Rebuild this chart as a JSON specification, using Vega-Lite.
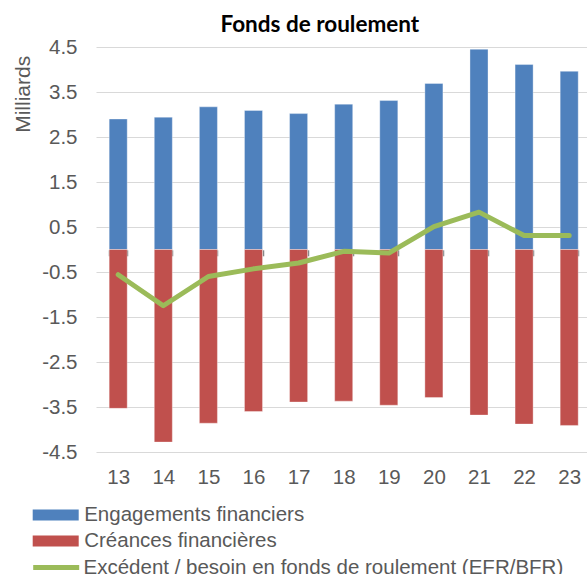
{
  "$schema": "https://vega.github.io/schema/vega-lite/v6.json",
  "width": 491,
  "height": 405,
  "autosize": {"type": "none"},
  "padding": {"left": 96, "top": 47, "right": 0, "bottom": 122},
  "background": "white",
  "title": {
    "text": "Fonds de roulement",
    "font": "Lato",
    "fontSize": 22.5,
    "fontWeight": "bold",
    "color": "#000000",
    "anchor": "middle",
    "frame": "group",
    "baseline": "alphabetic",
    "offset": 15,
    "dx": -21.7,
    "dy": 32.5
  },
  "config": {
    "view": {"stroke": null},
    "font": "Liberation Sans",
    "legend": {
      "title": null,
      "orient": "none",
      "direction": "vertical",
      "padding": 0,
      "symbolSize": 2116,
      "symbolOpacity": 1,
      "labelOffset": 5.5,
      "labelFont": "Liberation Sans",
      "labelFontSize": 20.5,
      "labelColor": "#595959",
      "labelLimit": 1000
    }
  },
  "data": {
    "values": [
      {"annee": "13", "serie": "Engagements financiers", "valeur": 2.90},
      {"annee": "14", "serie": "Engagements financiers", "valeur": 2.94},
      {"annee": "15", "serie": "Engagements financiers", "valeur": 3.17},
      {"annee": "16", "serie": "Engagements financiers", "valeur": 3.09},
      {"annee": "17", "serie": "Engagements financiers", "valeur": 3.02},
      {"annee": "18", "serie": "Engagements financiers", "valeur": 3.23},
      {"annee": "19", "serie": "Engagements financiers", "valeur": 3.31},
      {"annee": "20", "serie": "Engagements financiers", "valeur": 3.69},
      {"annee": "21", "serie": "Engagements financiers", "valeur": 4.45},
      {"annee": "22", "serie": "Engagements financiers", "valeur": 4.11},
      {"annee": "23", "serie": "Engagements financiers", "valeur": 3.96},
      {"annee": "13", "serie": "Créances financières", "valeur": -3.53},
      {"annee": "14", "serie": "Créances financières", "valeur": -4.28},
      {"annee": "15", "serie": "Créances financières", "valeur": -3.86},
      {"annee": "16", "serie": "Créances financières", "valeur": -3.60},
      {"annee": "17", "serie": "Créances financières", "valeur": -3.39},
      {"annee": "18", "serie": "Créances financières", "valeur": -3.37},
      {"annee": "19", "serie": "Créances financières", "valeur": -3.46},
      {"annee": "20", "serie": "Créances financières", "valeur": -3.29},
      {"annee": "21", "serie": "Créances financières", "valeur": -3.68},
      {"annee": "22", "serie": "Créances financières", "valeur": -3.88},
      {"annee": "23", "serie": "Créances financières", "valeur": -3.91},
      {"annee": "13", "serie": "Excédent / besoin en fonds de roulement (EFR/BFR)", "valeur": -0.56},
      {"annee": "14", "serie": "Excédent / besoin en fonds de roulement (EFR/BFR)", "valeur": -1.25},
      {"annee": "15", "serie": "Excédent / besoin en fonds de roulement (EFR/BFR)", "valeur": -0.60},
      {"annee": "16", "serie": "Excédent / besoin en fonds de roulement (EFR/BFR)", "valeur": -0.43},
      {"annee": "17", "serie": "Excédent / besoin en fonds de roulement (EFR/BFR)", "valeur": -0.30},
      {"annee": "18", "serie": "Excédent / besoin en fonds de roulement (EFR/BFR)", "valeur": -0.04},
      {"annee": "19", "serie": "Excédent / besoin en fonds de roulement (EFR/BFR)", "valeur": -0.08},
      {"annee": "20", "serie": "Excédent / besoin en fonds de roulement (EFR/BFR)", "valeur": 0.51},
      {"annee": "21", "serie": "Excédent / besoin en fonds de roulement (EFR/BFR)", "valeur": 0.83},
      {"annee": "22", "serie": "Excédent / besoin en fonds de roulement (EFR/BFR)", "valeur": 0.31},
      {"annee": "23", "serie": "Excédent / besoin en fonds de roulement (EFR/BFR)", "valeur": 0.31}
    ]
  },
  "encoding": {
    "x": {
      "field": "annee",
      "type": "ordinal",
      "sort": null,
      "scale": {"paddingInner": 0.6, "paddingOuter": 0.2435, "align": 0.6},
      "axis": {
        "title": null,
        "orient": "bottom",
        "offset": -202.2,
        "domain": false,
        "ticks": true,
        "tickBand": "extent",
        "tickColor": "#868686",
        "tickWidth": 1.5,
        "tickSize": 6,
        "labelAngle": 0,
        "labelFont": "Liberation Sans",
        "labelFontSize": 20.5,
        "labelColor": "#595959",
        "labelBaseline": "middle",
        "labelPadding": 222,
        "grid": false
      }
    },
    "y": {
      "field": "valeur",
      "type": "quantitative",
      "stack": null,
      "scale": {"domain": [-4.5, 4.5], "nice": false, "zero": false},
      "axis": {
        "title": "Milliards",
        "titleFont": "Liberation Sans",
        "titleFontSize": 21,
        "titleFontWeight": "normal",
        "titleColor": "#595959",
        "titleX": -67,
        "titleY": 46.8,
        "titleAngle": -90,
        "titleAlign": "center",
        "titleBaseline": "alphabetic",
        "values": [-4.5, -3.5, -2.5, -1.5, -0.5, 0.5, 1.5, 2.5, 3.5, 4.5],
        "format": ".1f",
        "labelExpr": "replace(datum.label, '−', '-')",
        "domain": false,
        "ticks": false,
        "labelFont": "Liberation Sans",
        "labelFontSize": 20.5,
        "labelColor": "#595959",
        "labelPadding": 19,
        "grid": true,
        "gridColor": "#d9d9d9",
        "gridWidth": 1
      }
    }
  },
  "layer": [
    {
      "transform": [{"filter": "datum.serie === 'Engagements financiers'"}],
      "mark": {"type": "bar", "stroke": "#ffffff", "strokeOpacity": 0.35, "strokeWidth": 1},
      "encoding": {
        "color": {
          "field": "serie",
          "type": "nominal",
          "scale": {"domain": ["Engagements financiers"], "range": ["#4f81bd"]},
          "legend": {
            "legendX": -63.3,
            "legendY": 445,
            "symbolType": "M-1,-0.24H1V0.24H-1Z",
            "symbolStrokeWidth": 0
          }
        }
      }
    },
    {
      "transform": [{"filter": "datum.serie === 'Créances financières'"}],
      "mark": {"type": "bar", "stroke": "#ffffff", "strokeOpacity": 0.35, "strokeWidth": 1},
      "encoding": {
        "fill": {
          "field": "serie",
          "type": "nominal",
          "scale": {"domain": ["Créances financières"], "range": ["#c0504d"]},
          "legend": {
            "legendX": -63.3,
            "legendY": 471,
            "symbolType": "M-1,-0.24H1V0.24H-1Z",
            "symbolStrokeWidth": 0
          }
        }
      }
    },
    {
      "mark": {"type": "rule", "color": "#868686", "strokeWidth": 2},
      "encoding": {"y": {"datum": 0, "type": "quantitative"}}
    },
    {
      "transform": [{"filter": "datum.serie === 'Excédent / besoin en fonds de roulement (EFR/BFR)'"}],
      "mark": {"type": "line", "strokeWidth": 5, "strokeCap": "round", "strokeJoin": "round"},
      "encoding": {
        "stroke": {
          "field": "serie",
          "type": "nominal",
          "scale": {
            "domain": ["Excédent / besoin en fonds de roulement (EFR/BFR)"],
            "range": ["#9bbb59"]
          },
          "legend": {
            "legendX": -65.3,
            "legendY": 495,
            "labelOffset": 1.8,
            "symbolType": "stroke",
            "symbolStrokeWidth": 5
          }
        }
      }
    }
  ]
}
